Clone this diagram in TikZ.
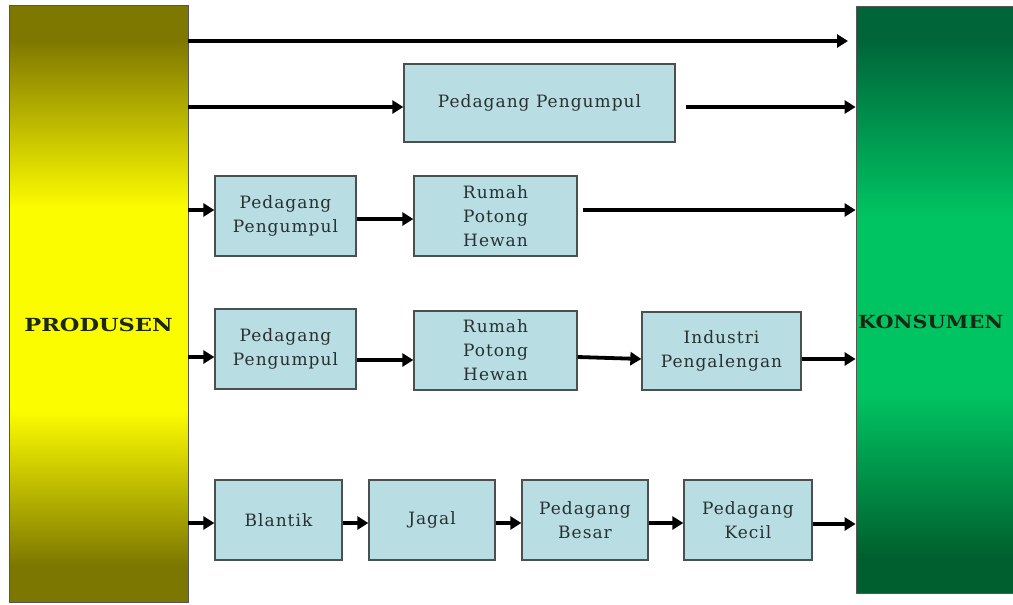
\documentclass[tikz,border=0pt]{standalone}
\usepackage{fontspec}
\setmainfont{DejaVu Serif}
\newfontfamily\boxfont[LetterSpace=6]{DejaVu Serif}
\usetikzlibrary{arrows.meta,calc}

\definecolor{boxfill}{HTML}{B8DDE2}
\definecolor{boxdraw}{HTML}{4A4F50}
\definecolor{boxtext}{HTML}{283031}
\definecolor{lbltext}{HTML}{1C2614}
\definecolor{bardraw}{HTML}{555555}
\definecolor{olvtop}{HTML}{7F7800}
\definecolor{olvbot}{HTML}{7C7700}
\definecolor{yel}{HTML}{FCFC00}
\definecolor{grntop}{HTML}{00663A}
\definecolor{grnmid}{HTML}{00C462}
\definecolor{grnbot}{HTML}{005F2E}

% vertical shadings: the band 25bp..75bp is stretched over the bar
\pgfdeclareverticalshading{prodshade}{100bp}{color(0bp)=(olvbot); color(25bp)=(olvbot); color(28bp)=(olvbot); color(41bp)=(yel); color(58bp)=(yel); color(72bp)=(olvtop); color(75bp)=(olvtop); color(100bp)=(olvtop)}
\pgfdeclareverticalshading{konsshade}{100bp}{color(0bp)=(grnbot); color(25bp)=(grnbot); color(28bp)=(grnbot); color(42bp)=(grnmid); color(57bp)=(grnmid); color(72bp)=(grntop); color(75bp)=(grntop); color(100bp)=(grntop)}

\tikzset{
  bar/.style={draw=bardraw, line width=0.8pt, inner sep=0pt},
  stage/.style={draw=boxdraw, line width=1.3pt, fill=boxfill, inner sep=0pt,
    align=center, text=boxtext, font=\boxfont\fontsize{17}{24}\selectfont},
  lbl/.style={text=lbltext, inner sep=0pt, font=\fontsize{18}{18}\selectfont\bfseries},
  flow/.style={line width=3.8pt, -{Triangle[length=11pt,width=13pt]}},
}

\begin{document}
\begin{tikzpicture}[x=1pt,y=-1pt]
\fill[white] (0,0) rectangle (1013,605);
\useasboundingbox (0,0) rectangle (1013,605);

% producer and consumer bars
\node[bar, shading=konsshade, minimum width=160pt, minimum height=587pt] (kons) at (936,299.5) {};
\node[bar, shading=prodshade, minimum width=179pt, minimum height=597pt] (prod) at (98.5,303.5) {};
\node[lbl] (prodlbl) at (98.5,325) {\scalebox{1.25}[1]{PRODUSEN}};
\node[lbl, anchor=west] (konslbl) at (858,322) {\scalebox{1.15}[1]{KONSUMEN}};

% channel 2
\node[stage, minimum width=271pt, minimum height=78pt] (pp) at (539.5,103) {Pedagang Pengumpul};
% channel 3
\node[stage, minimum width=141pt, minimum height=80pt] (pa) at (285.5,216) {Pedagang\\Pengumpul};
\node[stage, minimum width=163pt, minimum height=80pt] (ra) at (495.5,216) {Rumah\\Potong\\Hewan};
% channel 4
\node[stage, minimum width=141pt, minimum height=80pt] (pb) at (285.5,349) {Pedagang\\Pengumpul};
\node[stage, minimum width=163pt, minimum height=79pt] (rb) at (495.5,350.5) {Rumah\\Potong\\Hewan};
\node[stage, minimum width=159pt, minimum height=78pt] (ind) at (721.5,351) {Industri\\Pengalengan};
% channel 5
\node[stage, minimum width=127pt, minimum height=80pt] (bl) at (278.5,520) {Blantik};
\node[stage, minimum width=126pt, minimum height=80pt] (jg) at (432,520) {Jagal};
\node[stage, minimum width=126pt, minimum height=80pt] (pbs) at (585,520) {Pedagang\\Besar};
\node[stage, minimum width=128pt, minimum height=80pt] (pkc) at (748,520) {Pedagang\\Kecil};

% channel 1: direct
\coordinate (r1e) at (848,41);
\draw[flow] (prod.east |- r1e) -- (r1e);

% channel 2
\coordinate (ppin) at ([yshift=-4pt]pp.west);
\draw[flow] (prod.east |- ppin) -- (ppin);
\coordinate (ppout) at (686,107);
\draw[flow] (ppout) -- (kons.west |- ppout);

% channel 3
\coordinate (pain) at ([yshift=6pt]pa.west);
\draw[flow] (prod.east |- pain) -- (pain);
\draw[flow] ([yshift=-3pt]pa.east) -- ([yshift=-3pt]ra.west);
\coordinate (raout) at (583,210);
\draw[flow] (raout) -- (kons.west |- raout);

% channel 4
\coordinate (pbin) at ([yshift=-8pt]pb.west);
\draw[flow] (prod.east |- pbin) -- (pbin);
\draw[flow] ([yshift=-11pt]pb.east) -- ([yshift=-9.5pt]rb.west);
\draw[flow] ([yshift=-6.5pt]rb.east) -- ([yshift=-8pt]ind.west);
\coordinate (indout) at ([yshift=-8pt]ind.east);
\draw[flow] (indout) -- (kons.west |- indout);

% channel 5
\coordinate (blin) at ([yshift=-3pt]bl.west);
\draw[flow] (prod.east |- blin) -- (blin);
\draw[flow] ([yshift=-3pt]bl.east) -- ([yshift=-3pt]jg.west);
\draw[flow] ([yshift=-3pt]jg.east) -- ([yshift=-3pt]pbs.west);
\draw[flow] ([yshift=-3pt]pbs.east) -- ([yshift=-3pt]pkc.west);
\coordinate (pkcout) at ([yshift=-4pt]pkc.east);
\draw[flow] (pkcout) -- (kons.west |- pkcout);
\end{tikzpicture}
\end{document}
